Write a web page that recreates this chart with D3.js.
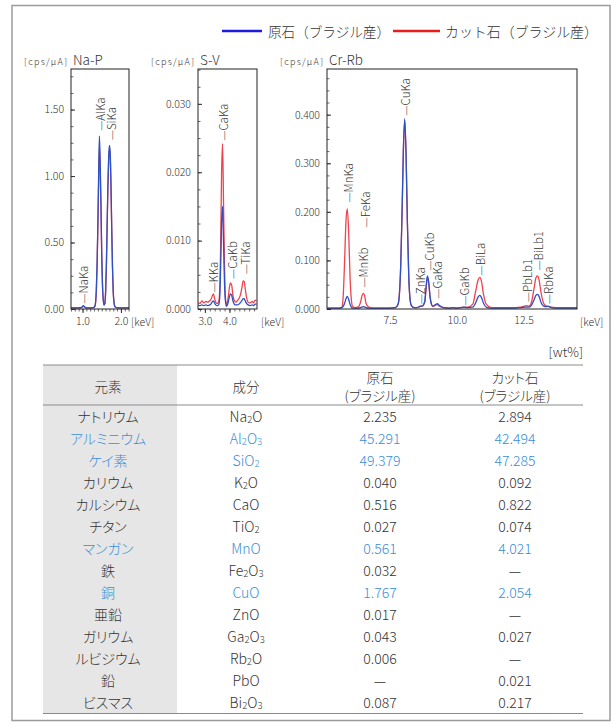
<!DOCTYPE html>
<html><head><meta charset="utf-8">
<script src="https://cdn.jsdelivr.net/npm/d3@7"></script>
<style>
body{margin:0;background:#fff}
svg{display:block}
text{font-family:"Noto Sans CJK JP","Noto Sans",sans-serif;fill:#333;font-feature-settings:"palt" 1;font-weight:300}
text.leg{font-feature-settings:normal}
</style></head>
<body><svg id="c" width="613" height="725"></svg>
<script>
// ---------------- DATA ----------------
const seriesNames = ["原石（ブラジル産）", "カット石（ブラジル産）"];

// Panel 1: Na-P  [keV, cps/uA]
const naPRaw = [[0.70,0.010],[0.80,0.008],[0.90,0.008],[0.98,0.012],[1.02,0.025],[1.06,0.015],[1.10,0.008],[1.20,0.008],[1.28,0.010],[1.32,0.020],[1.34,0.05],[1.36,0.15],[1.38,0.35],[1.40,0.65],[1.42,1.02],[1.44,1.30],[1.46,1.10],[1.48,0.80],[1.50,0.42],[1.52,0.18],[1.54,0.07],[1.56,0.03],[1.58,0.04],[1.60,0.12],[1.62,0.32],[1.64,0.62],[1.66,0.92],[1.68,1.14],[1.70,1.23],[1.72,1.18],[1.74,0.95],[1.76,0.62],[1.78,0.32],[1.80,0.13],[1.82,0.05],[1.84,0.02],[1.88,0.010],[1.95,0.008],[2.05,0.008],[2.21,0.008]];
const naPCut = [[0.70,0.010],[0.80,0.008],[0.90,0.008],[0.98,0.012],[1.02,0.020],[1.06,0.013],[1.10,0.008],[1.20,0.008],[1.28,0.010],[1.32,0.020],[1.34,0.05],[1.36,0.14],[1.38,0.33],[1.40,0.62],[1.42,0.96],[1.44,1.22],[1.46,1.05],[1.48,0.76],[1.50,0.40],[1.52,0.17],[1.54,0.07],[1.56,0.03],[1.58,0.04],[1.60,0.12],[1.62,0.31],[1.64,0.60],[1.66,0.90],[1.68,1.11],[1.70,1.20],[1.72,1.15],[1.74,0.92],[1.76,0.60],[1.78,0.31],[1.80,0.12],[1.82,0.05],[1.84,0.02],[1.88,0.010],[1.95,0.008],[2.05,0.008],[2.21,0.008]];
const naPPeaks = ["NaKa", "AlKa", "SiKa"];
const naPPeakKeV = [1.02, 1.445, 1.745];
const naPPeakTop = [0.04, 1.34, 1.27];
const naPYTicks = [0, 0.5, 1.0, 1.5];
const naPXTicks = [1.0, 2.0];

// Panel 2: S-V
const sVRaw = [[2.70,0.0006],[2.80,0.0005],[2.88,0.0006],[2.96,0.0005],[3.04,0.0006],[3.12,0.0005],[3.20,0.0006],[3.26,0.0008],[3.31,0.0011],[3.35,0.0012],[3.39,0.0009],[3.44,0.0006],[3.50,0.0005],[3.56,0.0006],[3.60,0.0015],[3.64,0.0060],[3.68,0.0125],[3.72,0.0150],[3.76,0.0095],[3.80,0.0035],[3.84,0.0010],[3.88,0.0004],[3.92,0.0006],[3.96,0.0012],[4.00,0.0018],[4.04,0.0022],[4.09,0.0020],[4.14,0.0012],[4.20,0.0007],[4.26,0.0006],[4.32,0.0006],[4.38,0.0007],[4.44,0.0009],[4.50,0.0012],[4.56,0.0015],[4.60,0.0015],[4.64,0.0012],[4.70,0.0008],[4.76,0.0006],[4.84,0.0005],[4.92,0.0006],[4.98,0.0005],[5.04,0.0007],[5.10,0.0007]];
const sVCut = [[2.70,0.0010],[2.80,0.0008],[2.88,0.0012],[2.96,0.0009],[3.04,0.0011],[3.12,0.0010],[3.20,0.0012],[3.26,0.0015],[3.31,0.0020],[3.35,0.0022],[3.39,0.0016],[3.44,0.0010],[3.50,0.0008],[3.56,0.0010],[3.60,0.0025],[3.64,0.0090],[3.68,0.0200],[3.72,0.0242],[3.76,0.0150],[3.80,0.0060],[3.84,0.0015],[3.88,0.0006],[3.92,0.0010],[3.96,0.0020],[4.00,0.0032],[4.04,0.0038],[4.09,0.0035],[4.14,0.0020],[4.20,0.0012],[4.26,0.0010],[4.32,0.0012],[4.38,0.0015],[4.44,0.0020],[4.50,0.0030],[4.56,0.0041],[4.60,0.0040],[4.64,0.0030],[4.70,0.0016],[4.76,0.0010],[4.84,0.0009],[4.92,0.0011],[4.98,0.0009],[5.04,0.0013],[5.10,0.0012]];
const sVPeaks = ["KKa", "CaKa", "CaKb", "TiKa"];
const sVPeakKeV = [3.35, 3.73, 4.11, 4.65];
const sVPeakTop = [0.0024, 0.0246, 0.0044, 0.0051];
const sVYTicks = [0, 0.010, 0.020, 0.030];
const sVXTicks = [3.0, 4.0];

// Panel 3: Cr-Rb
const crRbRaw = [[5.15,0.002],[5.4,0.002],[5.6,0.002],[5.7,0.003],[5.75,0.006],[5.8,0.012],[5.85,0.021],[5.9,0.026],[5.95,0.020],[6.0,0.010],[6.05,0.004],[6.1,0.002],[6.2,0.002],[6.3,0.002],[6.4,0.003],[6.45,0.004],[6.5,0.005],[6.55,0.004],[6.6,0.003],[6.7,0.002],[6.9,0.002],[7.2,0.002],[7.5,0.002],[7.7,0.003],[7.8,0.010],[7.85,0.030],[7.9,0.090],[7.95,0.200],[8.0,0.330],[8.05,0.392],[8.1,0.320],[8.15,0.180],[8.2,0.070],[8.25,0.020],[8.3,0.007],[8.4,0.003],[8.5,0.003],[8.6,0.005],[8.65,0.006],[8.7,0.006],[8.8,0.015],[8.85,0.045],[8.9,0.068],[8.95,0.055],[9.0,0.025],[9.05,0.010],[9.1,0.006],[9.2,0.009],[9.27,0.011],[9.35,0.007],[9.5,0.003],[9.7,0.002],[9.85,0.003],[10.0,0.002],[10.15,0.003],[10.27,0.004],[10.4,0.003],[10.6,0.004],[10.7,0.012],[10.8,0.025],[10.86,0.028],[10.92,0.024],[11.0,0.012],[11.1,0.004],[11.3,0.002],[11.6,0.002],[11.9,0.002],[12.2,0.002],[12.4,0.003],[12.55,0.004],[12.61,0.004],[12.7,0.004],[12.8,0.008],[12.9,0.020],[12.96,0.028],[13.02,0.030],[13.08,0.026],[13.15,0.014],[13.25,0.006],[13.35,0.005],[13.42,0.006],[13.5,0.004],[13.7,0.002],[14.0,0.002],[14.3,0.002],[14.5,0.002]];
const crRbCut = [[5.15,0.002],[5.4,0.002],[5.6,0.002],[5.7,0.004],[5.75,0.030],[5.8,0.100],[5.85,0.180],[5.9,0.206],[5.95,0.160],[6.0,0.070],[6.05,0.020],[6.1,0.005],[6.2,0.003],[6.3,0.004],[6.4,0.015],[6.45,0.027],[6.5,0.032],[6.55,0.027],[6.6,0.012],[6.7,0.004],[6.9,0.002],[7.2,0.002],[7.5,0.002],[7.7,0.003],[7.8,0.010],[7.85,0.030],[7.9,0.088],[7.95,0.195],[8.0,0.325],[8.05,0.388],[8.1,0.315],[8.15,0.175],[8.2,0.068],[8.25,0.020],[8.3,0.007],[8.4,0.003],[8.5,0.003],[8.6,0.005],[8.65,0.006],[8.7,0.006],[8.8,0.015],[8.85,0.043],[8.9,0.065],[8.95,0.052],[9.0,0.024],[9.05,0.010],[9.1,0.005],[9.2,0.008],[9.27,0.009],[9.35,0.006],[9.5,0.003],[9.7,0.002],[9.85,0.003],[10.0,0.002],[10.15,0.003],[10.27,0.004],[10.4,0.004],[10.6,0.010],[10.7,0.035],[10.8,0.060],[10.86,0.065],[10.92,0.058],[11.0,0.030],[11.1,0.010],[11.3,0.003],[11.6,0.003],[11.9,0.003],[12.2,0.003],[12.4,0.004],[12.55,0.006],[12.61,0.007],[12.7,0.006],[12.8,0.015],[12.9,0.045],[12.96,0.064],[13.02,0.068],[13.08,0.060],[13.15,0.035],[13.25,0.012],[13.35,0.006],[13.42,0.005],[13.5,0.004],[13.7,0.003],[14.0,0.003],[14.3,0.003],[14.5,0.003]];
const crRbPeaks = ["MnKa", "MnKb", "FeKa", "CuKa", "ZnKa", "CuKb", "GaKa", "GaKb", "BiLa", "PbLb1", "BiLb1", "RbKa"];
const crRbPeakKeV = [5.93, 6.48, 6.55, 8.05, 8.64, 8.96, 9.27, 10.27, 10.86, 12.61, 13.05, 13.42];
const crRbPeakTop = [0.219, 0.044, 0.168, 0.398, 0.010, 0.079, 0.021, 0.007, 0.069, 0.014, 0.079, 0.010];
const crRbYTicks = [0, 0.1, 0.2, 0.3, 0.4];
const crRbXTicks = [7.5, 10.0, 12.5];

// Table
const tableHeaders = ["元素", "成分", ["原石", "(ブラジル産)"], ["カット石", "(ブラジル産)"]];
const elements = ["ナトリウム","アルミニウム","ケイ素","カリウム","カルシウム","チタン","マンガン","鉄","銅","亜鉛","ガリウム","ルビジウム","鉛","ビスマス"];
const components = ["Na2O","Al2O3","SiO2","K2O","CaO","TiO2","MnO","Fe2O3","CuO","ZnO","Ga2O3","Rb2O","PbO","Bi2O3"];
const rawValues = ["2.235","45.291","49.379","0.040","0.516","0.027","0.561","0.032","1.767","0.017","0.043","0.006","—","0.087"];
const cutValues = ["2.894","42.494","47.285","0.092","0.822","0.074","4.021","—","2.054","—","0.027","—","0.021","0.217"];
const highlighted = ["アルミニウム","ケイ素","マンガン","銅"];
const unitLabel = "[wt%]";

// ---------------- DRAW ----------------
const svg = d3.select("#c");
const BLUE = "#2f4fc4", RED = "#f0424c";
const FONT = '"Noto Sans CJK JP","Noto Sans",sans-serif';

svg.append("rect").attr("x", 12).attr("y", 5.5).attr("width", 598).attr("height", 715)
  .attr("fill", "none").attr("stroke", "#9c9c9c").attr("stroke-width", 1.5);

// legend
const legY = 31;
const legend = [
  {name: seriesNames[0], color: "#1c1ce0", x0: 222, x1: 262, tx: 268, w: 122},
  {name: seriesNames[1], color: "#e81c1c", x0: 393, x1: 440, tx: 445, w: 153}
];
legend.forEach(l => {
  svg.append("line").attr("x1", l.x0).attr("x2", l.x1).attr("y1", legY).attr("y2", legY)
    .attr("stroke", l.color).attr("stroke-width", 2.5);
  svg.append("text").attr("class", "leg").attr("x", l.tx).attr("y", legY).attr("dominant-baseline", "central")
    .attr("font-size", 14).attr("textLength", l.w).attr("lengthAdjust", "spacingAndGlyphs").text(l.name);
});

const panels = [
  {title: "Na-P", x0: 71, x1: 129, xDom: [0.70, 2.21], yDom: [0, 1.805], yTicks: naPYTicks, yFmt: ".2f",
   yMinorStep: 0.125, xTicks: naPXTicks, xMinorStep: 0.1, raw: naPRaw, cut: naPCut,
   peaks: naPPeaks, peakKeV: naPPeakKeV, peakTop: naPPeakTop, unitX: 131},
  {title: "S-V", x0: 198, x1: 257, xDom: [2.72, 5.12], yDom: [0, 0.0351], yTicks: sVYTicks, yFmt: ".3f",
   yMinorStep: 0.0025, xTicks: sVXTicks, xMinorStep: 0.2, raw: sVRaw, cut: sVCut,
   peaks: sVPeaks, peakKeV: sVPeakKeV, peakTop: sVPeakTop, unitX: 261},
  {title: "Cr-Rb", x0: 327, x1: 577, xDom: [5.14, 14.5], yDom: [0, 0.494], yTicks: crRbYTicks, yFmt: ".3f",
   yMinorStep: 0.025, xTicks: crRbXTicks, xMinorStep: null, raw: crRbRaw, cut: crRbCut,
   peaks: crRbPeaks, peakKeV: crRbPeakKeV, peakTop: crRbPeakTop, unitX: 580}
];
const plotTop = 69, plotBot = 309;

panels.forEach(p => {
  const x = d3.scaleLinear().domain(p.xDom).range([p.x0, p.x1]);
  const y = d3.scaleLinear().domain(p.yDom).range([plotBot, plotTop]);
  const g = svg.append("g");
  const clipId = "clip" + p.title.replace(/\W/g, "");
  svg.append("clipPath").attr("id", clipId).append("rect")
    .attr("x", p.x0).attr("y", plotTop).attr("width", p.x1 - p.x0).attr("height", plotBot - plotTop);

  const yMinor = d3.range(0, p.yDom[1] + 1e-9, p.yMinorStep);
  g.append("g").attr("transform", `translate(${p.x0},0)`)
    .call(d3.axisLeft(y).tickValues(yMinor).tickSize(-2.5).tickFormat(""))
    .call(a => a.select(".domain").remove())
    .call(a => a.selectAll("line").attr("stroke", "#444").attr("stroke-width", 0.8));
  g.append("g").attr("transform", `translate(${p.x0},0)`)
    .call(d3.axisLeft(y).tickValues(p.yTicks).tickSize(-4).tickPadding(7).tickFormat(d3.format(p.yFmt)))
    .call(a => a.select(".domain").remove())
    .call(a => a.selectAll("line").attr("stroke", "#333"))
    .call(a => a.selectAll("text").attr("font-size", 10.5).attr("fill", "#333").style("font-family", FONT));

  if (p.xMinorStep) {
    const start = Math.ceil(p.xDom[0] / p.xMinorStep) * p.xMinorStep;
    const xMinor = d3.range(start, p.xDom[1], p.xMinorStep);
    g.append("g").attr("transform", `translate(0,${plotBot})`)
      .call(d3.axisBottom(x).tickValues(xMinor).tickSize(2.5).tickFormat(""))
      .call(a => a.select(".domain").remove())
      .call(a => a.selectAll("line").attr("stroke", "#444").attr("stroke-width", 0.8));
  }
  g.append("g").attr("transform", `translate(0,${plotBot})`)
    .call(d3.axisBottom(x).tickValues(p.xTicks).tickSize(p.xMinorStep ? 4 : 0).tickPadding(p.xMinorStep ? 5 : 8).tickFormat(d3.format(".1f")))
    .call(a => a.select(".domain").remove())
    .call(a => a.selectAll("line").attr("stroke", "#333"))
    .call(a => a.selectAll("text").attr("font-size", 10.5).attr("fill", "#333").style("font-family", FONT));

  g.append("text").attr("x", p.unitX).attr("y", 326).attr("font-size", 10.5).text("[keV]");

  const line = d3.line().x(d => x(d[0])).y(d => y(d[1])).curve(d3.curveMonotoneX);
  const lg = g.append("g").attr("clip-path", `url(#${clipId})`);
  lg.append("path").datum(p.cut).attr("d", line).attr("fill", "none")
    .attr("stroke", RED).attr("stroke-width", 1.3).attr("stroke-linejoin", "round");
  lg.append("path").datum(p.raw).attr("d", line).attr("fill", "none")
    .attr("stroke", BLUE).attr("stroke-width", 1.3).attr("stroke-linejoin", "round");

  g.append("rect").attr("x", p.x0).attr("y", plotTop).attr("width", p.x1 - p.x0).attr("height", plotBot - plotTop)
    .attr("fill", "none").attr("stroke", "#222").attr("stroke-width", 1);

  g.append("text").attr("x", p.x0 - 4).attr("y", 65).attr("text-anchor", "end")
    .attr("font-size", 9).attr("textLength", 43).attr("lengthAdjust", "spacing").text("[cps/μA]");
  g.append("text").attr("x", p.x0 + 2).attr("y", 65).attr("font-size", 13.5).text(p.title);

  p.peaks.forEach((name, i) => {
    const px = x(p.peakKeV[i]), py = y(p.peakTop[i]);
    g.append("text").attr("transform", `translate(${px},${py}) rotate(-90)`)
      .attr("dominant-baseline", "central").attr("font-size", 11.5)
      .text("—" + name);
  });
});

// ---------------- TABLE ----------------
const tL = 43, tR = 583, tTop = 365, hBot = 405, rowH = 22, firstRow = 416;
const colX = [108, 246, 380, 515];
const nRows = elements.length;
const tBot = firstRow + rowH * (nRows - 1) + 11.5;
const rowY = d3.scaleLinear().domain([0, 1]).range([firstRow, firstRow + rowH]);

svg.append("rect").attr("x", tL).attr("y", tTop).attr("width", 177 - tL).attr("height", tBot - tTop)
  .attr("fill", "#e6e6e6");
[tTop, hBot, tBot].forEach(yy => svg.append("line").attr("x1", tL).attr("x2", tR)
  .attr("y1", yy).attr("y2", yy).attr("stroke", "#8a8a8a").attr("stroke-width", 1));
svg.append("text").attr("x", tR).attr("y", 357).attr("text-anchor", "end").attr("font-size", 13).text(unitLabel);

tableHeaders.forEach((h, i) => {
  if (Array.isArray(h)) {
    svg.append("text").attr("x", colX[i]).attr("y", 376.5).attr("text-anchor", "middle")
      .attr("dominant-baseline", "central").attr("font-size", 13.5).text(h[0]);
    svg.append("text").attr("x", colX[i]).attr("y", 395).attr("text-anchor", "middle")
      .attr("dominant-baseline", "central").attr("font-size", 13.5).text(h[1]);
  } else {
    svg.append("text").attr("x", colX[i]).attr("y", 386).attr("text-anchor", "middle")
      .attr("dominant-baseline", "central").attr("font-size", 13.5).text(h);
  }
});

function formula(sel, f) {
  let sub = false;
  f.split("").forEach(ch => {
    const isD = /\d/.test(ch);
    const t = sel.append("tspan").text(ch);
    if (isD && !sub) { t.attr("dy", 3).attr("font-size", 9.5); sub = true; }
    else if (isD && sub) { t.attr("font-size", 9.5); }
    else if (!isD && sub) { t.attr("dy", -3); sub = false; }
  });
}

elements.forEach((el, i) => {
  const yy = rowY(i);
  const col = highlighted.includes(el) ? "#3a8ed8" : "#333";
  const cells = [el, components[i], rawValues[i], cutValues[i]];
  cells.forEach((c, j) => {
    const t = svg.append("text").attr("x", colX[j]).attr("y", yy).attr("text-anchor", "middle")
      .attr("dominant-baseline", "central").attr("font-size", 14).style("fill", col);
    if (j === 1) formula(t, c); else t.text(c);
  });
});
</script></body></html>
